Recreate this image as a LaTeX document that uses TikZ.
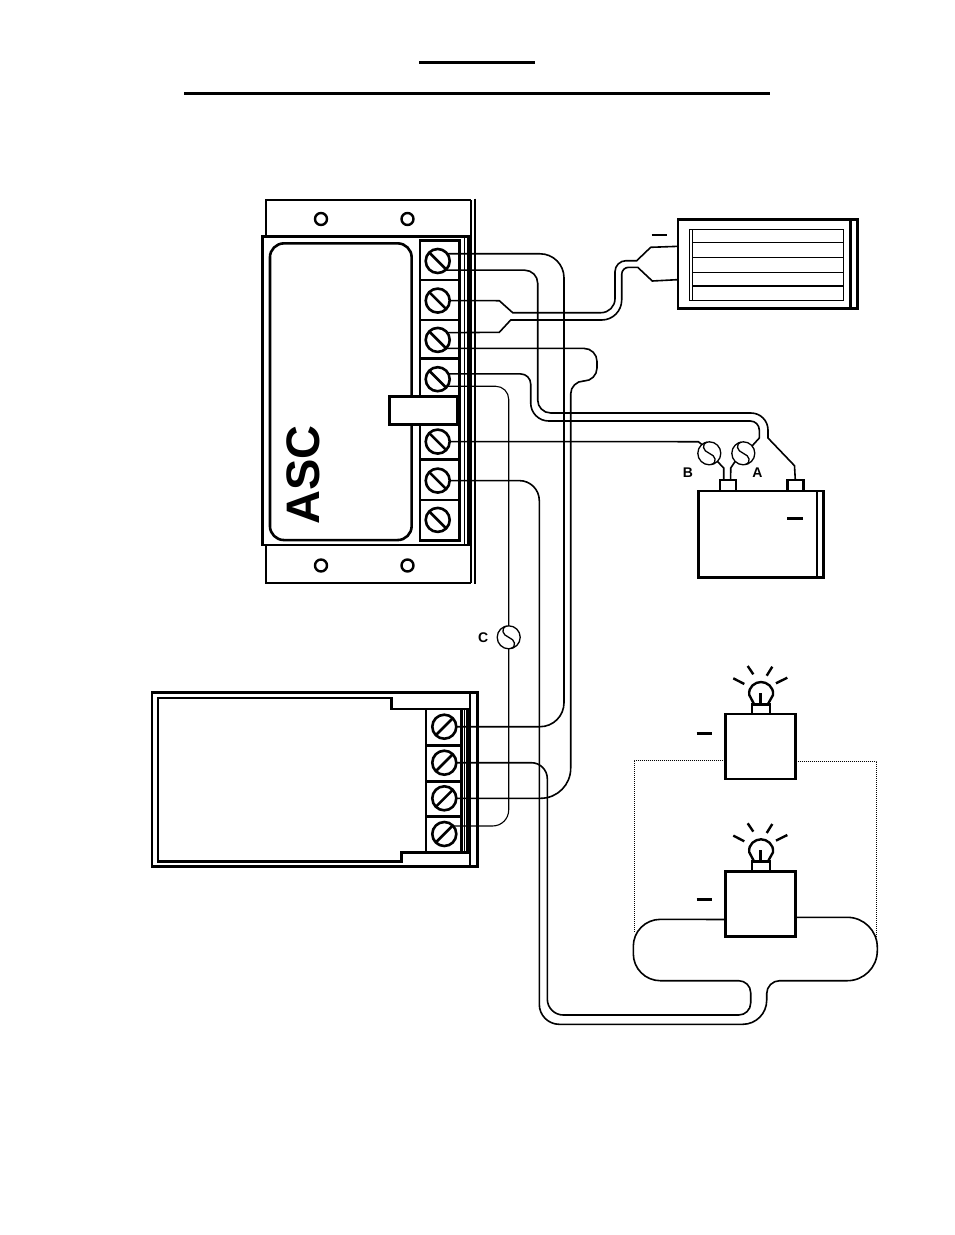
\documentclass[tikz,border=0pt]{standalone}
\usepackage{fontspec}
\setmainfont{Liberation Sans}
\usepackage{tikz}
\usetikzlibrary{arrows}
\usetikzlibrary{positioning}

\begin{document}
\begin{tikzpicture}[x=1pt,y=-1pt,node distance=40pt,
    box/.style={draw, rectangle, line width=2.8pt, inner sep=0pt, outer sep=0pt},
    screw/.style={draw, circle, line width=2.6pt, minimum size=24pt, inner sep=0pt, outer sep=0pt},
    hole/.style={draw, circle, line width=2.4pt, minimum size=12pt, inner sep=0pt, outer sep=0pt},
    fuse/.style={draw, circle, line width=1.3pt, minimum size=23pt, inner sep=0pt, outer sep=0pt},
    tag/.style={font=\bfseries\fontsize{14}{14}\selectfont, inner sep=0pt},
    heavy/.style={line width=2.8pt},
    wire/.style={line width=1.6pt},
    thinwire/.style={line width=1.1pt},
    minus/.style={line width=2.6pt}]

    \useasboundingbox (0,0) rectangle (954,1235);

    % Title rules
    \coordinate (titleA) at (419,62);
    \coordinate (titleB) at (535,62);
    \coordinate (titleC) at (184,93);
    \coordinate (titleD) at (770,93);
    \draw [line width=3pt] (titleA) -- (titleB);
    \draw [line width=3pt] (titleC) -- (titleD);

    % Charge controller housing
    \draw [heavy] (266,236.7) -- (266,200) -- (471,200);
    \draw [heavy] (266,545) -- (266,583) -- (471,583);
    \draw [line width=2.6pt] (475,198.6) -- (475,584.4);
    \draw [line width=1.6pt] (471,200) -- (471,583);
    \node [box, minimum width=206pt, minimum height=308.3pt] (asc) at (365.3,390.8) {};
    \draw [line width=1.2pt] (464.3,236.7) -- (464.3,545);
    \node [box, rounded corners=14pt, line width=2.6pt, minimum width=141.7pt, minimum height=296.7pt] (ascWindow) at (340.8,391.7) {};
    \node [hole] (holeA) at (321,219) {};
    \node [hole, right of=holeA, node distance=86.5pt] (holeB) {};
    \node [hole] (holeC) at (321,565.5) {};
    \node [hole, right of=holeC, node distance=86.5pt] (holeD) {};
    \node [rotate=90, font=\bfseries\fontsize{47}{47}\selectfont, inner sep=0pt] (ascName) at (303,475) {ASC};

    % Charge controller terminals
    \node [box, minimum width=39.3pt, minimum height=300pt] (ascBlock) at (439.7,390.7) {};
    \foreach \y in {280,320,358.3,459.3,500}
        \draw [heavy] (420,\y) -- (459.3,\y);
    \node [screw] (ascA) at (437.7,261) {};
    \node [screw, below of=ascA, node distance=39.6pt] (ascB) {};
    \node [screw, below of=ascB, node distance=39.3pt] (ascC) {};
    \node [screw, below of=ascC, node distance=39.3pt] (ascD) {};
    \node [screw, below of=ascD, node distance=62.4pt] (ascE) {};
    \node [screw, below of=ascE, node distance=39pt] (ascF) {};
    \node [screw, below of=ascF, node distance=39.3pt] (ascG) {};
    \foreach \n in {ascA,ascB,ascC,ascD,ascE,ascF,ascG}
        \draw [line width=2.6pt] (\n.135) -- (\n.-45);
    \node [box, fill=white, minimum width=68.4pt, minimum height=27.6pt] (ascTab) at (423.5,410.5) {};

    % Alarm module
    \node [box, minimum width=325.3pt, minimum height=174.4pt] (alarm) at (314.7,779.5) {};
    \draw [line width=2pt] (470,692.3) -- (470,866.7);
    \draw [heavy] (470,709) -- (391.7,709) -- (391.7,698) -- (158,698) -- (158,861.7) -- (401.7,861.7) -- (401.7,852.3) -- (470,852.3);
    \node [box, minimum width=35.7pt, minimum height=143.3pt] (alarmBlock) at (443.8,780.7) {};
    \foreach \y in {745.7,781.7,816.7}
        \draw [heavy] (426,\y) -- (461.7,\y);
    \draw [line width=1pt] (464.3,709) -- (464.3,852.3);
    \draw [line width=4pt] (468,709) -- (468,852.3);
    \node [screw] (alarmA) at (444.3,726.7) {};
    \node [screw, below of=alarmA, node distance=36pt] (alarmB) {};
    \node [screw, below of=alarmB, node distance=35.6pt] (alarmC) {};
    \node [screw, below of=alarmC, node distance=35.7pt] (alarmD) {};
    \foreach \n in {alarmA,alarmB,alarmC,alarmD}
        \draw [line width=2.6pt] (\n.45) -- (\n.-135);

    % Solar panel
    \node [box, minimum width=179.7pt, minimum height=89pt] (panel) at (767.8,263.8) {};
    \draw [line width=2.2pt] (850.5,219.3) -- (850.5,308.3);
    \node [draw, rectangle, line width=1.1pt, inner sep=0pt, minimum width=154pt, minimum height=70.7pt] (panelGlass) at (766.3,264.7) {};
    \draw [line width=1.1pt] (692.3,229.3) -- (692.3,300);
    \foreach \y in {242.3,257.3,272.3}
        \draw [line width=1.1pt] (692.3,\y) -- (843.3,\y);
    \draw [line width=1.8pt] (692.3,286) -- (843.3,286);
    \coordinate (panelDashA) at (651.7,235);
    \coordinate (panelDashB) at (667.3,235);
    \draw [minus] (panelDashA) -- (panelDashB);

    % Battery
    \node [box, minimum width=125pt, minimum height=86.3pt] (battery) at (760.8,534.2) {};
    \draw [line width=2.2pt] (816.7,491) -- (816.7,577.3);
    \node [box, line width=2.4pt, minimum width=16pt, minimum height=11pt] (termL) at (728,485.5) {};
    \node [box, line width=2.4pt, minimum width=16pt, minimum height=11pt] (termR) at (795.3,485.5) {};
    \coordinate (batDashA) at (787.3,518.3);
    \coordinate (batDashB) at (803.3,518.3);
    \draw [minus] (batDashA) -- (batDashB);

    % Fuses
    \node [fuse] (fuseA) at (743.3,453.3) {};
    \node [fuse] (fuseB) at (709.3,453.3) {};
    \node [fuse] (fuseC) at (508.7,637.3) {};
    \foreach \n in {fuseA,fuseB,fuseC}
        \draw [line width=1.3pt] (\n.100) to[out=-160,in=160,looseness=1.5] (\n.center) to[out=-20,in=20,looseness=1.5] (\n.-80);
    \node [tag, xshift=14pt, yshift=-19.5pt] (labelA) at (fuseA) {A};
    \node [tag, xshift=-21.5pt, yshift=-19.5pt] (labelB) at (fuseB) {B};
    \node [tag, xshift=-25.5pt] (labelC) at (fuseC) {C};

    % Lamps
    \foreach \n/\dy in {lampA/0,lampB/157.3}{
        \node [box, minimum width=70.4pt, minimum height=65pt] (\n) at (760.5,746.5+\dy) {};
        \node [box, line width=2.4pt, minimum width=17.7pt, minimum height=9.7pt] (\n Base) at (761,709.2+\dy) {};
        \draw [line width=2.4pt] (754,704+\dy) -- (749.3,695+\dy) .. controls (748,687+\dy) and (755,682+\dy) .. (761,682+\dy)
            .. controls (767,682+\dy) and (774,687+\dy) .. (773,695+\dy) -- (768,704+\dy);
        \draw [line width=2.4pt] (760.5,693+\dy) -- (760.5,704+\dy);
        \draw [line width=2.4pt] (733.3,678.3+\dy) -- (744.3,684+\dy);
        \draw [line width=2.4pt] (747.7,666+\dy) -- (753.3,674.3+\dy);
        \draw [line width=2.4pt] (772.3,666.7+\dy) -- (766.7,675.7+\dy);
        \draw [line width=2.4pt] (787.3,677.7+\dy) -- (776,683.3+\dy);
    }
    \coordinate (lampDashA) at (696.7,733.3);
    \coordinate (lampDashB) at (712.3,733.3);
    \coordinate (lampDashC) at (696.7,899.3);
    \coordinate (lampDashD) at (712.3,899.3);
    \draw [minus] (lampDashA) -- (lampDashB);
    \draw [minus] (lampDashC) -- (lampDashD);

    % Connections
    \draw [wire, rounded corners=24pt] (ascA.37) -| (564,500) |- (alarmA.east);
    \draw [wire] (ascA.-50) [rounded corners=13pt] -| (537.7,413) -- (650,413) [rounded corners=17pt] (650,413) -| (768,431) [sharp corners] (768,431) -- (768,438) -- (794.5,465.7) -- (termR.north);
    \draw [wire] (ascD.26) [rounded corners=10pt] -| (530.7,392) [rounded corners=18pt] (530.7,392) |- (650,421) [rounded corners=9pt] (650,421) -| (759.3,432) [sharp corners] (759.3,432) -- (759.3,438) -- (fuseA.40);
    \draw [wire] (ascB.east) -- (499.3,300.7) -- (512.7,312.7) -- (560,312.7) [rounded corners=14pt] (560,312.7) -- (615,312.7) -- (615,285) [rounded corners=11pt] (615,285) |- (630,260.7) [sharp corners] (630,260.7) -- (636.7,260.7) -- (650.7,247.3) -- (panel.169.6);
    \draw [wire] (ascC.37) -- (499.3,332.3) -- (510.7,320) -- (560,320) [rounded corners=20pt] (560,320) -- (621.7,320) -- (621.7,290) [rounded corners=7pt] (621.7,290) |- (630,267.3) [sharp corners] (630,267.3) -- (637.7,267.3) -- (652.3,281) -- (panel.190.8);
    \draw [wire] (ascC.-45) [rounded corners=13pt] -| (597,381) -| (570.7,500) [rounded corners=30pt] (570.7,500) |- (alarmC.east);
    \draw [thinwire, rounded corners=13pt] (ascD.-36) -| (fuseC.north);
    \draw [thinwire, rounded corners=16pt] (fuseC.south) |- (alarmD.42);
    \draw [wire] (ascE.east) -- (698.3,441.7) -- (fuseB.130);
    \draw [wire] (fuseB.-45) -- (723.7,468) -- (termL.128);
    \draw [wire] (fuseA.-135) -- (730.7,468) -- (termL.64);
    \draw [wire, rounded corners=20pt] (ascF.east) -| (539.3,1024.3) -- (650,1024.3) [rounded corners=24pt] (650,1024.3) -- (766.7,1024.3) -- (766.7,998) [rounded corners=13pt] (766.7,998) |- (800,980.7) [rounded corners=30pt] (800,980.7) -| (877.3,917.3) -- (lampB.-21);
    \draw [wire, rounded corners=16pt] (alarmB.east) -| (547.3,1015) -- (700,1015) [rounded corners=12pt] (700,1015) -| (750.7,980.7) -- (700,980.7) [rounded corners=27pt] (700,980.7) -| (633.3,919.3) -- (lampB.204);
    \draw [densely dotted, line width=1pt] (lampA.west |- 0,760) -| (634.3,933);
    \draw [densely dotted, line width=1pt] (lampA.east |- 0,761.3) -| (876.7,936.7);

\end{tikzpicture}
\end{document}
